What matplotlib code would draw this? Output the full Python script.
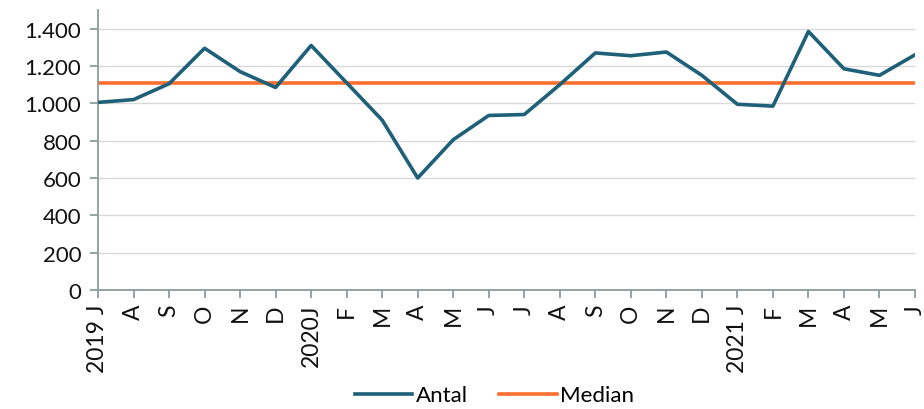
import matplotlib
matplotlib.use("Agg")
import matplotlib.pyplot as plt

categories = ["2019 J", "A", "S", "O", "N", "D", "2020J", "F", "M", "A", "M", "J",
              "J", "A", "S", "O", "N", "D", "2021 J", "F", "M", "A", "M", "J"]
antal = [1005, 1020, 1105, 1295, 1170, 1085, 1310, 1110, 910, 600, 805, 935,
         940, 1100, 1270, 1255, 1275, 1150, 995, 985, 1385, 1185, 1150, 1260]
median_value = 1110
median = [median_value] * len(categories)
y_ticks = [0, 200, 400, 600, 800, 1000, 1200, 1400]
y_tick_labels = ["0", "200", "400", "600", "800", "1.000", "1.200", "1.400"]

plt.rcParams['font.family'] = ['Lato', 'DejaVu Sans']

fig = plt.figure(figsize=(9.24, 4.10), dpi=100)
ax = fig.add_axes([98/924, 1-291/410, (915-98)/924, (291-11)/410])

x = list(range(len(categories)))
ax.plot(x, antal, color="#1f6079", lw=2.6, label="Antal", zorder=3)
ax.plot(x, median, color="#fd6e2f", lw=2.6, label="Median", zorder=2)

ax.set_xlim(0, len(categories) - 1)
ax.set_ylim(0, 1500)
ax.set_yticks(y_ticks)
ax.set_yticklabels(y_tick_labels, fontsize=16, color="#111111")
ax.set_xticks(x)
ax.set_xticklabels(categories, rotation=90, fontsize=16.5, color="#111111")

ax.grid(axis="y", color="#d9d9d9", lw=1)
ax.set_axisbelow(True)
for s in ["top", "right"]:
    ax.spines[s].set_visible(False)
for s in ["left", "bottom"]:
    ax.spines[s].set_color("#8e9c9c")
    ax.spines[s].set_linewidth(1.3)
ax.tick_params(axis="both", color="#8e9c9c", width=1.3, length=6)
ax.tick_params(axis="y", pad=6)
ax.tick_params(axis="x", pad=4)

fig.legend(loc="lower center", bbox_to_anchor=(0.535, -0.04), ncol=2, frameon=False,
           fontsize=16, handlelength=2.6, handletextpad=0.15, columnspacing=1.4)

fig.savefig("out.png", dpi=100)
